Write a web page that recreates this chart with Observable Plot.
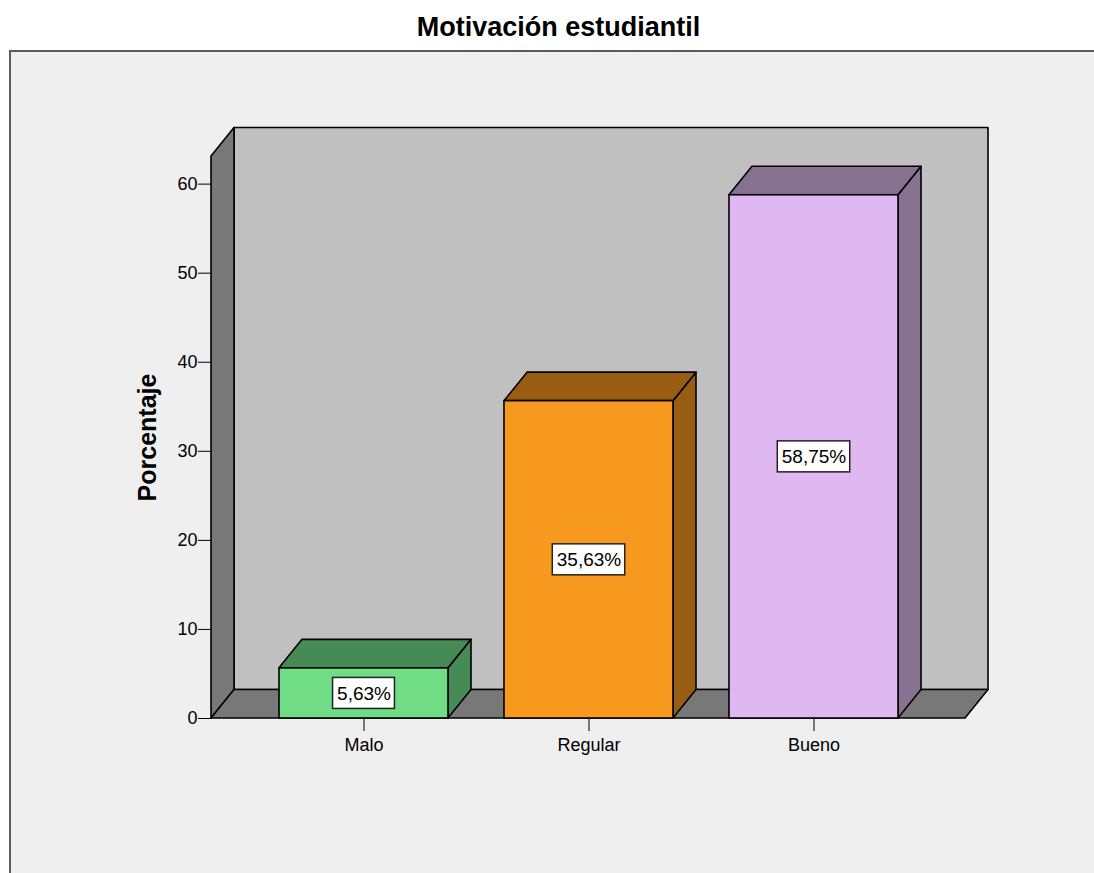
<!DOCTYPE html>
<html>
<head>
<meta charset="utf-8">
<script src="https://cdn.jsdelivr.net/npm/d3@7"></script>
<script src="https://cdn.jsdelivr.net/npm/@observablehq/plot@0.6"></script>
<style>
  html, body { margin: 0; padding: 0; background: #fff; }
  #page { position: relative; width: 1094px; height: 873px; overflow: hidden;
          font-family: Arial, "Liberation Sans", sans-serif; }
  #title { position: absolute; left: 0; top: 14px; width: 1117px; text-align: center;
           font-weight: bold; font-size: 27px; line-height: 27px; color: #000; }
  #frame { position: absolute; left: 9px; top: 50px; width: 1200px; height: 900px;
           border-top: 2px solid #5c5c5c; border-left: 2px solid #5c5c5c; background: #efefef; }
  #chart { position: absolute; left: 0; top: 50px; }
</style>
</head>
<body>
<div id="page">
  <div id="title">Motivación estudiantil</div>
  <div id="frame"></div>
  <div id="chart"></div>
</div>
<script>
// Data
const categories = ["Malo", "Regular", "Bueno"];
const percentages = [5.63, 35.63, 58.75];
const yTicks = [0, 10, 20, 30, 40, 50, 60];
const yLabel = "Porcentaje";

// Styles
const frontColors = ["#70dc84", "#f7991f", "#dfb8f2"];
const depthColors = ["#468a55", "#985c12", "#887292"];
const backWallFill = "#c0c0c0";
const sideWallFill = "#787878";
const edge = "#000";
const FONT = 'Arial, "Liberation Sans", sans-serif';

// Layout
const W = 1094, H = 823;
const DX = 23, DY = 28.5;      // depth offset of the 3D box
const yTop = 63.1;              // value at the top of the walls
const labelFont = 19;

const bars = categories.map((c, i) => ({category: c, value: percentages[i], index: i}));
const fmt = v => v.toFixed(2).replace(".", ",") + "%";

function poly(g, pts, fill, sw = 1.6) {
  g.append("path")
    .attr("d", "M" + pts.map(p => p.join(",")).join("L") + "Z")
    .attr("fill", fill)
    .attr("stroke", edge)
    .attr("stroke-width", sw)
    .attr("stroke-linejoin", "round");
}

// Back wall, left wall and floor of the 3D frame
function walls(index, {x, y}) {
  const g = d3.create("svg:g");
  const [x0, x1] = x.range();
  const yb = y(0), yt = y(y.domain()[1]);
  poly(g, [[x0 + DX, yt - DY], [x1 + DX, yt - DY], [x1 + DX, yb - DY], [x0 + DX, yb - DY]], backWallFill);
  poly(g, [[x0, yb], [x0, yt], [x0 + DX, yt - DY], [x0 + DX, yb - DY]], sideWallFill);
  poly(g, [[x0, yb], [x0 + DX, yb - DY], [x1 + DX, yb - DY], [x1, yb]], sideWallFill);
  return g.node();
}

// Right side and top faces of each bar
function barDepth(index, {x, y}) {
  const g = d3.create("svg:g");
  const bw = x.bandwidth();
  const yb = y(0);
  for (const d of bars) {
    const xl = x(d.category), xr = xl + bw, yv = y(d.value);
    poly(g, [[xr, yb], [xr + DX, yb - DY], [xr + DX, yv - DY], [xr, yv]], depthColors[d.index]);
    poly(g, [[xl, yv], [xl + DX, yv - DY], [xr + DX, yv - DY], [xr, yv]], depthColors[d.index]);
  }
  return g.node();
}

// White boxes behind the value labels
const ctx = document.createElement("canvas").getContext("2d");
ctx.font = `${labelFont}px ${FONT}`;
function labelBoxes(index, {x, y}) {
  const g = d3.create("svg:g");
  const bw = x.bandwidth();
  for (const d of bars) {
    const tw = ctx.measureText(fmt(d.value)).width + 8;
    const th = 31;
    const cx = x(d.category) + bw / 2, cy = y(d.value / 2);
    g.append("rect")
      .attr("x", cx - tw / 2).attr("y", cy - th / 2)
      .attr("width", tw).attr("height", th)
      .attr("fill", "#fff").attr("stroke", "#222").attr("stroke-width", 1.5);
  }
  return g.node();
}

const chart = Plot.plot({
  width: W,
  height: H,
  marginLeft: 211,
  marginRight: 129,
  marginTop: 106,
  marginBottom: 155,
  style: {background: "transparent", fontSize: "18px", fontFamily: FONT, color: "#000", overflow: "visible"},
  x: {
    type: "band",
    domain: categories,
    paddingInner: 0.25,
    paddingOuter: 0.297,
    tickSize: 13,
    tickPadding: 7,
    label: null
  },
  y: {
    domain: [0, yTop],
    ticks: yTicks,
    tickSize: 13,
    tickPadding: 1,
    label: null
  },
  color: {domain: categories, range: frontColors},
  marks: [
    walls,
    barDepth,
    Plot.barY(bars, {x: "category", y: "value", fill: "category", stroke: edge, strokeWidth: 1.6}),
    labelBoxes,
    Plot.text(bars, {x: "category", y: d => d.value / 2, text: d => fmt(d.value),
                     fontSize: labelFont, fill: "#000"}),
    Plot.text([yLabel], {frameAnchor: "left", rotate: -90, dx: -64, fontSize: 25,
                         fontWeight: "bold", textAnchor: "middle", fill: "#000"})
  ]
});

document.getElementById("chart").appendChild(chart);
</script>
</body>
</html>
